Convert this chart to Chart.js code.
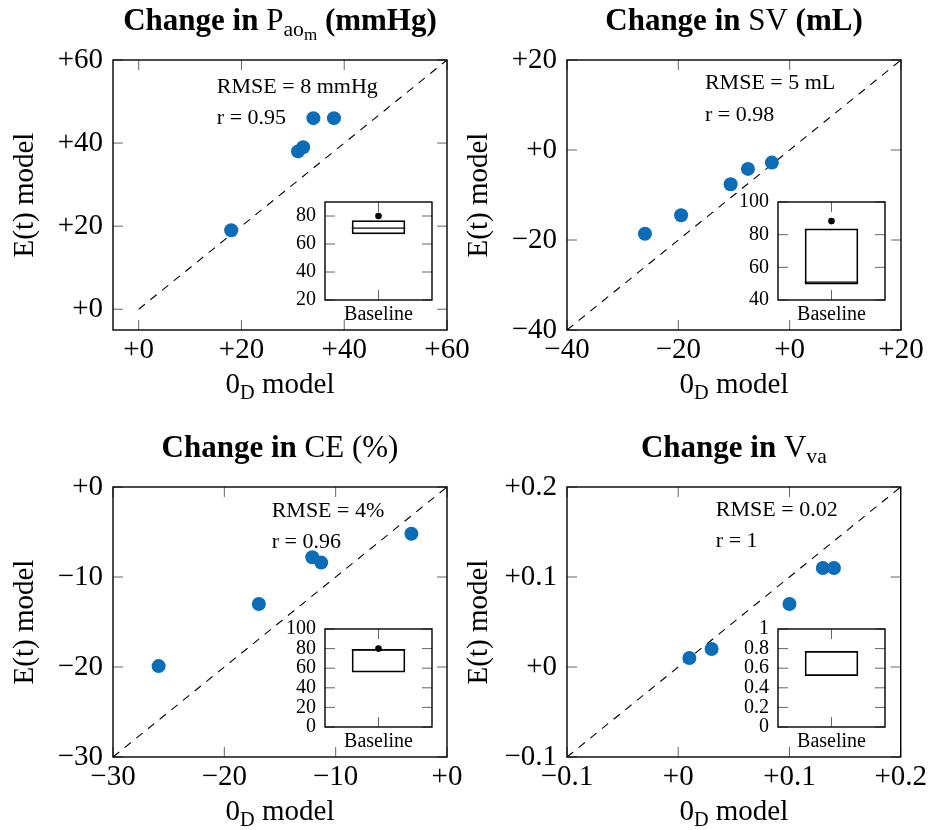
<!DOCTYPE html>
<html><head><meta charset="utf-8">
<script src="https://cdn.jsdelivr.net/npm/chart.js@4.4.1/dist/chart.umd.min.js"></script>
<style>
html,body{margin:0;padding:0;background:#fff;width:930px;height:830px;overflow:hidden;position:relative}
canvas{position:absolute}
</style></head><body>
<canvas id="m0"></canvas><canvas id="m1"></canvas><canvas id="m2"></canvas><canvas id="m3"></canvas>
<canvas id="i0"></canvas><canvas id="i1"></canvas><canvas id="i2"></canvas><canvas id="i3"></canvas>
<script>
// ---------- DATA ----------
// Panel A: change in P_aom (mmHg)
const paomX = [18, 31, 32, 34, 38];
const paomY = [19, 38, 39, 46, 46];
const paomTicks = [0, 20, 40, 60];
const paomTickLabels = ['+0', '+20', '+40', '+60'];
const paomRange = [-5, 60];
const paomDiag = [0, 60];
const paomStats = ['RMSE = 8 mmHg', 'r = 0.95'];
const paomBox = [67, 71.3, 77];          // q1, median, q3
const paomOutliers = [80];
const paomBoxTicks = [20, 40, 60, 80];
const paomBoxTickLabels = ['20', '40', '60', '80'];
const paomBoxRange = [20, 90];

// Panel B: change in SV (mL)
const svX = [-26, -19.5, -10.6, -7.5, -3.2];
const svY = [-18.6, -14.5, -7.6, -4.2, -2.8];
const svTicks = [-40, -20, 0, 20];
const svTickLabels = ['\u221240', '\u221220', '+0', '+20'];
const svRange = [-40, 20];
const svDiag = [-40, 20];
const svStats = ['RMSE = 5 mL', 'r = 0.98'];
const svBox = [49.5, 51, 83.8];
const svOutliers = [88.3];
const svBoxTicks = [40, 60, 80, 100];
const svBoxTickLabels = ['40', '60', '80', '100'];
const svBoxRange = [40, 100];

// Panel C: change in CE (%)
const ceX = [-25.9, -16.9, -12.1, -11.3, -3.2];
const ceY = [-19.9, -13.0, -7.8, -8.4, -5.2];
const ceTicks = [-30, -20, -10, 0];
const ceTickLabels = ['\u221230', '\u221220', '\u221210', '+0'];
const ceRange = [-30, 0];
const ceDiag = [-30, 0];
const ceStats = ['RMSE = 4%', 'r = 0.96'];
const ceBox = [55.6, 79, 79.5];
const ceOutliers = [80];
const ceBoxTicks = [0, 20, 40, 60, 80, 100];
const ceBoxTickLabels = ['0', '20', '40', '60', '80', '100'];
const ceBoxRange = [0, 100];

// Panel D: change in V_va
const vvaX = [0.01, 0.03, 0.10, 0.13, 0.14];
const vvaY = [0.01, 0.02, 0.07, 0.11, 0.11];
const vvaTicks = [-0.1, 0, 0.1, 0.2];
const vvaTickLabels = ['\u22120.1', '+0', '+0.1', '+0.2'];
const vvaRange = [-0.1, 0.2];
const vvaDiag = [-0.1, 0.2];
const vvaStats = ['RMSE = 0.02', 'r = 1'];
const vvaBox = [0.52, null, 0.776];
const vvaOutliers = [];
const vvaBoxTicks = [0, 0.2, 0.4, 0.6, 0.8, 1];
const vvaBoxTickLabels = ['0', '0.2', '0.4', '0.6', '0.8', '1'];
const vvaBoxRange = [0, 1];

const boxCategories = ['Baseline'];

// ---------- STYLE / LAYOUT ----------
const FONT = '"Liberation Serif", "Times New Roman", serif';
const BLUE = '#0b6cb7';

const panels = [
  {id:'m0', inset:'i0', left:0,   top:0,   padRight:40, xs:paomX, ys:paomY, ticks:paomTicks, labels:paomTickLabels, range:paomRange, diag:paomDiag, stats:paomStats, statX:0.311, statY:[32.5, 64],
   title:[{t:'Change in ',b:1},{t:'P'},{t:'ao',sub:1},{t:'m',sub:2},{t:' '},{t:'(mmHg)',b:1}],
   box:paomBox, out:paomOutliers, bticks:paomBoxTicks, blabels:paomBoxTickLabels, brange:paomBoxRange, ileft:325, itop:193},
  {id:'m1', inset:'i1', left:454, top:0,   padRight:29, xs:svX, ys:svY, ticks:svTicks, labels:svTickLabels, range:svRange, diag:svDiag, stats:svStats, statX:0.413, statY:[29, 61],
   title:[{t:'Change in ',b:1},{t:'SV '},{t:'(mL)',b:1}],
   box:svBox, out:svOutliers, bticks:svBoxTicks, blabels:svBoxTickLabels, brange:svBoxRange, ileft:778, itop:193},
  {id:'m2', inset:'i2', left:0,   top:427, padRight:40, xs:ceX, ys:ceY, ticks:ceTicks, labels:ceTickLabels, range:ceRange, diag:ceDiag, stats:ceStats, statX:0.475, statY:[29.5, 61],
   title:[{t:'Change in ',b:1},{t:'CE (%)'}],
   box:ceBox, out:ceOutliers, bticks:ceBoxTicks, blabels:ceBoxTickLabels, brange:ceBoxRange, ileft:325, itop:620},
  {id:'m3', inset:'i3', left:454, top:427, padRight:29, xs:vvaX, ys:vvaY, ticks:vvaTicks, labels:vvaTickLabels, range:vvaRange, diag:vvaDiag, stats:vvaStats, statX:0.446, statY:[28.5, 60],
   title:[{t:'Change in ',b:1},{t:'V'},{t:'va',sub:1}],
   box:vvaBox, out:vvaOutliers, bticks:vvaBoxTicks, blabels:vvaBoxTickLabels, brange:vvaBoxRange, ileft:778, itop:620}
];

function drawRich(ctx, segs, size, cx, baseline) {
  const parts = segs.map(s => {
    let sz = size, dy = 0;
    if (s.sub === 1) { sz = size * 0.7; dy = size * 0.2; }
    if (s.sub === 2) { sz = size * 0.55; dy = size * 0.32; }
    const font = (s.b ? 'bold ' : '') + sz + 'px ' + FONT;
    ctx.font = font;
    return {t:s.t, font, dy, w:ctx.measureText(s.t).width};
  });
  const total = parts.reduce((a, p) => a + p.w, 0);
  let x = cx - total / 2;
  ctx.save();
  ctx.fillStyle = '#000';
  ctx.textAlign = 'left';
  ctx.textBaseline = 'alphabetic';
  parts.forEach(p => { ctx.font = p.font; ctx.fillText(p.t, x, baseline + p.dy); x += p.w; });
  ctx.restore();
}

function frameAndTicks(chart, xTicks, yTicks, len) {
  const {ctx, chartArea:a} = chart;
  ctx.save();
  ctx.strokeStyle = '#666';
  ctx.lineWidth = 1;
  ctx.beginPath();
  xTicks.forEach(px => {
    ctx.moveTo(px, a.bottom); ctx.lineTo(px, a.bottom - len);
    ctx.moveTo(px, a.top); ctx.lineTo(px, a.top + len);
  });
  yTicks.forEach(py => {
    ctx.moveTo(a.left, py); ctx.lineTo(a.left + len, py);
    ctx.moveTo(a.right, py); ctx.lineTo(a.right - len, py);
  });
  ctx.stroke();
  ctx.restore();
}

function drawFrame(chart) {
  const {ctx, chartArea:a} = chart;
  ctx.save();
  ctx.strokeStyle = '#000';
  ctx.lineWidth = 1.4;
  ctx.strokeRect(a.left, a.top, a.right - a.left, a.bottom - a.top);
  ctx.restore();
}

panels.forEach(p => {
  const cv = document.getElementById(p.id);
  const W = 113 + 334 + p.padRight, H = 60 + 270 + 80;
  cv.width = W; cv.height = H;
  cv.style.left = p.left + 'px'; cv.style.top = p.top + 'px';
  const pts = p.xs.map((x, i) => ({x, y:p.ys[i]}));
  const diag = p.diag.map(v => ({x:v, y:v}));
  const tickFont = {family:FONT, size:29};
  const axis = (isX) => ({
    type:'linear', min:p.range[0], max:p.range[1],
    afterBuildTicks: s => { s.ticks = p.ticks.map(v => ({value:v})); },
    afterFit: s => { if (isX) s.height = 80; else s.width = 113; },
    ticks:{callback:(v, i) => p.labels[i], font:tickFont, color:'#000', padding:isX ? 3 : 10, autoSkip:false, maxRotation:0},
    grid:{display:false, drawTicks:false},
    border:{display:false},
    title: isX ? {display:false} : {display:true, text:'E(t) model', font:{family:FONT, size:29}, color:'#000', padding:{top:8, bottom:0}}
  });
  new Chart(cv, {
    type:'scatter',
    data:{datasets:[
      {data:pts, pointRadius:7, pointHoverRadius:7, backgroundColor:BLUE, borderColor:BLUE, borderWidth:0},
      {type:'line', data:diag, borderColor:'#000', borderWidth:1.1, borderDash:[8,7], pointRadius:0, fill:false}
    ]},
    options:{
      responsive:false, animation:false, devicePixelRatio:1,
      layout:{padding:{top:60, right:p.padRight, left:0, bottom:0}},
      plugins:{legend:{display:false}, tooltip:{enabled:false}},
      scales:{x:axis(true), y:axis(false)}
    },
    plugins:[{
      id:'deco',
      beforeDatasetsDraw(chart) {
        const xs = chart.scales.x, ys = chart.scales.y;
        frameAndTicks(chart, p.ticks.map(v => xs.getPixelForValue(v)), p.ticks.map(v => ys.getPixelForValue(v)), 10);
      },
      afterDraw(chart) {
        drawFrame(chart);
        const a = chart.chartArea, ctx = chart.ctx;
        const cx = (a.left + a.right) / 2;
        drawRich(ctx, p.title, 31, cx, a.top - 30);
        drawRich(ctx, [{t:'0'},{t:'D',sub:1},{t:' model'}], 29, cx, a.bottom + 63);
        ctx.save();
        ctx.font = '22px ' + FONT; ctx.fillStyle = '#000'; ctx.textAlign = 'left'; ctx.textBaseline = 'alphabetic';
        const sx = a.left + p.statX * (a.right - a.left);
        p.stats.forEach((s, i) => ctx.fillText(s, sx, a.top + p.statY[i]));
        ctx.restore();
      }
    }]
  });

  // inset box plot
  const ic = document.getElementById(p.inset);
  const IW = 50 + 107 + 6, IH = 12 + 107 + 40;
  ic.width = IW; ic.height = IH;
  ic.style.left = (p.ileft - 50) + 'px'; ic.style.top = (p.itop - 12) + 'px';
  new Chart(ic, {
    type:'bar',
    data:{labels:boxCategories, datasets:[
      {type:'bar', data:[[p.box[0], p.box[2]]], backgroundColor:'rgba(255,255,255,0)', borderColor:'#000', borderWidth:1.7, borderSkipped:false, barPercentage:0.5, categoryPercentage:1},
      {type:'line', data:p.out, showLine:false, pointRadius:3.3, pointHoverRadius:3.3, pointBackgroundColor:'#000', pointBorderWidth:0, borderColor:'#000'}
    ]},
    options:{
      responsive:false, animation:false, devicePixelRatio:1,
      layout:{padding:{top:12, right:6, left:0, bottom:0}},
      plugins:{legend:{display:false}, tooltip:{enabled:false}},
      scales:{
        x:{type:'category', grid:{display:false, drawTicks:false}, border:{display:false},
           ticks:{font:{family:FONT, size:20}, color:'#000', padding:3, maxRotation:0},
           afterFit: s => { s.height = 40; }},
        y:{type:'linear', min:p.brange[0], max:p.brange[1],
           afterBuildTicks: s => { s.ticks = p.bticks.map(v => ({value:v})); },
           afterFit: s => { s.width = 50; },
           ticks:{callback:(v, i) => p.blabels[i], font:{family:FONT, size:20}, color:'#000', padding:9, autoSkip:false},
           grid:{display:false, drawTicks:false}, border:{display:false}}
      }
    },
    plugins:[{
      id:'boxdeco',
      beforeDatasetsDraw(chart) {
        const a = chart.chartArea, ctx = chart.ctx;
        ctx.save(); ctx.fillStyle = '#fff'; ctx.fillRect(a.left, a.top, a.right - a.left, a.bottom - a.top); ctx.restore();
        const xs = chart.scales.x, ys = chart.scales.y;
        frameAndTicks(chart, boxCategories.map((c, i) => xs.getPixelForValue(i)), p.bticks.map(v => ys.getPixelForValue(v)), 10);
      },
      afterDatasetsDraw(chart) {
        const ctx = chart.ctx, ys = chart.scales.y;
        const bar = chart.getDatasetMeta(0).data[0];
        if (p.box[1] !== null && bar) {
          const y = ys.getPixelForValue(p.box[1]);
          ctx.save(); ctx.strokeStyle = '#000'; ctx.lineWidth = 1.3;
          ctx.beginPath(); ctx.moveTo(bar.x - bar.width / 2, y); ctx.lineTo(bar.x + bar.width / 2, y); ctx.stroke();
          ctx.restore();
        }
        drawFrame(chart);
      }
    }]
  });
});
</script>
</body></html>
